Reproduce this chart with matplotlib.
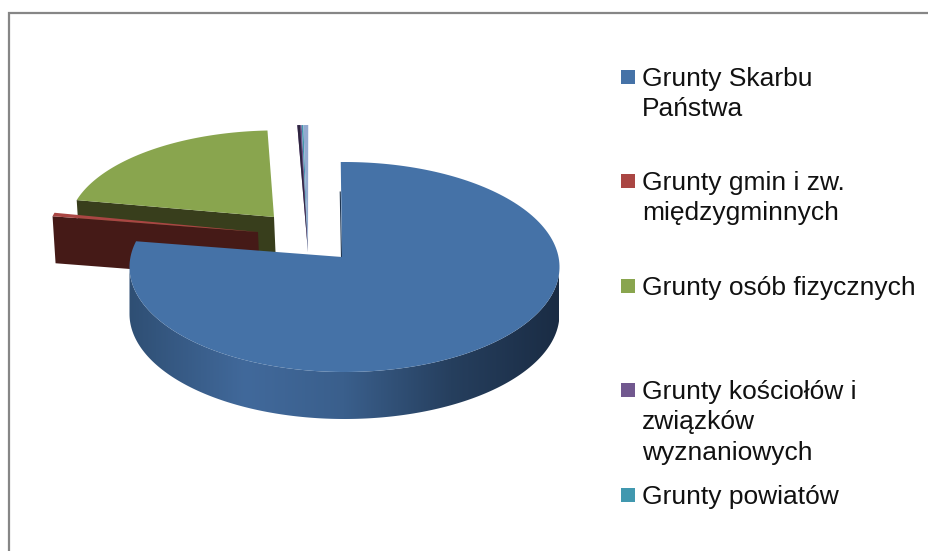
import numpy as np
import matplotlib
matplotlib.use("Agg")
import matplotlib.pyplot as plt
from matplotlib.colors import LinearSegmentedColormap
from matplotlib.patches import Polygon, Rectangle

# percent shares (last one has no legend entry)
names = ["Grunty Skarbu\nPaństwa", "Grunty gmin i zw.\nmiędzygminnych", "Grunty osób fizycznych",
         "Grunty kościołów i\nzwiązków\nwyznaniowych", "Grunty powiatów"]
values = [79.22, 0.55, 19.78, 0.18, 0.07, 0.20]
colors = ["#4572a7", "#aa4643", "#89a54e", "#71588f", "#4198af", "#93a9cf"]
walls = ["#34587f", "#451a17", "#383e1c", "#2f2540", "#1f4a55", "#6b7fa3"]
legend_y = [70, 174, 279, 383, 488]

RX, RY, DEPTH = 215, 105, 47
START = -1.0


def rim(cx, cy, a0, a1, sx=1.0, sy=1.0, n=200):
    t = np.radians(np.linspace(a0, a1, n))
    return np.column_stack([cx + RX * sx * np.sin(t), cy - RY * sy * np.cos(t)])


def edge_wall(ax, apex, outer, color, z):
    ax.add_patch(Polygon([outer, apex, (apex[0] + 2, apex[1] + DEPTH), (outer[0] + 3, outer[1] + DEPTH)],
                         fc=color, ec="none", zorder=z))


fig = plt.figure(figsize=(9.29, 5.51), dpi=100)
ax = fig.add_axes([0, 0, 1, 1])

angles = START + np.cumsum([0] + values) * 3.6

# the chart frame, only top and left are visible
ax.plot([9, 9, 929], [551, 13, 13], color="#868686", lw=1.6, solid_joinstyle="miter", zorder=1)

# tiny slices, far out at the back
tiny = dict(cx=315, cy=262, sx=1.8, sy=1.305)
apex = (308, 252)
for i in (3, 4, 5):
    pts = rim(tiny["cx"], tiny["cy"], angles[i], angles[i + 1], tiny["sx"], tiny["sy"], 10)
    ax.add_patch(Polygon(np.vstack([apex, pts]), fc=colors[i], ec="none", zorder=2))
pts = rim(tiny["cx"], tiny["cy"], angles[3], angles[3] + (angles[6] - angles[3]) * 0.25,
          tiny["sx"], tiny["sy"], 5)
ax.add_patch(Polygon(np.vstack([apex, pts]), fc=walls[3], ec="none", zorder=2.5))

# green slice
g_apex = (274, 217)
pts = rim(277, 227, angles[2], angles[3], 0.97, 0.92)
edge_wall(ax, g_apex, pts[0], walls[2], 3)
ax.add_patch(Polygon(np.vstack([g_apex, pts]), fc=colors[2], ec="none", zorder=4))

# red slice
r_apex = (258, 232)
pts = rim(261, 242, angles[1], angles[2])
edge_wall(ax, r_apex, pts[0], walls[1], 5)
ax.add_patch(Polygon(np.vstack([r_apex, pts]), fc=colors[1], ec="none", zorder=6))

# blue slice, side with shading, then top
cx, cy = 344.5, 267
front = rim(cx, cy, 90, 270)
side = Polygon(np.vstack([front, (front + [0, DEPTH])[::-1]]), fc="none", ec="none", transform=ax.transData)
ax.add_patch(side)
shade = LinearSegmentedColormap.from_list("side", [(0, "#2f4f74"), (0.27, "#41699b"), (0.5, "#3a5f8c"),
                                                   (0.75, "#263f5e"), (1, "#1a2c44")])
im = ax.imshow(np.linspace(0, 1, 256).reshape(1, -1), cmap=shade, aspect="auto",
               extent=(cx - RX, cx + RX, cy + RY + DEPTH + 2, cy - 5), zorder=7)
im.set_clip_path(side)
b_apex = (342, 257)
pts = rim(cx, cy, angles[0], angles[1])
ax.plot([pts[0][0] - 0.5, b_apex[0] - 0.5], [pts[0][1] + 30, b_apex[1]], color="#1f3550", lw=0.8, zorder=7.5)
ax.add_patch(Polygon(np.vstack([b_apex, pts]), fc=colors[0], ec="none", zorder=8))

# legend
for name, color, y in zip(names, colors, legend_y):
    ax.add_patch(Rectangle((621, y), 14, 14, fc=color, ec="none", zorder=9))
    ax.text(642, y - 3, name, fontsize=19, family="Liberation Sans", color="#111111",
            va="top", ha="left", linespacing=1.33, zorder=9)

ax.set_xlim(0, 929)
ax.set_ylim(551, 0)
ax.axis("off")

fig.savefig("out.png", dpi=100, facecolor="white")
